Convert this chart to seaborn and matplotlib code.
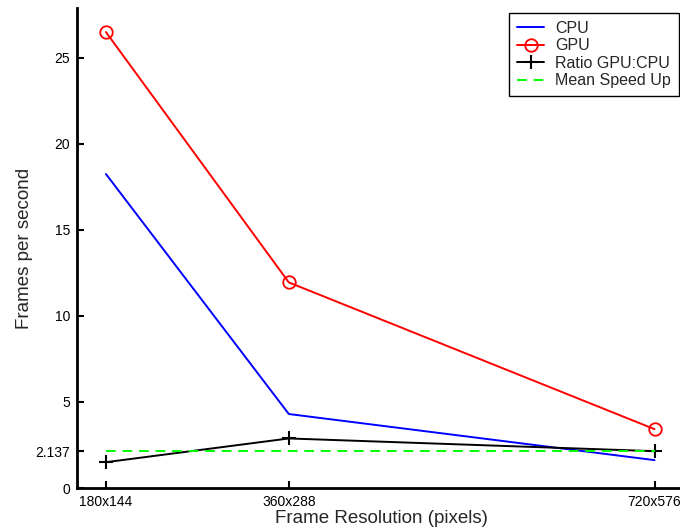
"""
GPU vs CPU frame rate at three frame resolutions, with the speed-up ratio.
"""
import matplotlib
matplotlib.use("Agg")
import matplotlib.pyplot as plt
import seaborn as sns

# --- data ---
frame_widths = [180, 360, 720]
frame_labels = ["180x144", "360x288", "720x576"]
cpu_fps = [18.25, 4.3, 1.62]
gpu_fps = [26.5, 11.95, 3.42]
ratio_gpu_cpu = [1.5, 2.88, 2.14]
mean_speedup = 2.137

sns.set_style("white")
plt.rcParams["font.family"] = ["Liberation Sans", "DejaVu Sans"]

fig = plt.figure(figsize=(6.8, 5.28), dpi=100)
# axes run a little past the right edge, as in the clipped original
ax = fig.add_axes([77 / 680, 40 / 528, 608 / 680, 480 / 528])

lw = 1.4
sns.lineplot(x=frame_widths, y=cpu_fps, ax=ax, color="blue", linewidth=lw,
             label="CPU")
sns.lineplot(x=frame_widths, y=gpu_fps, ax=ax, color="red", linewidth=lw,
             marker="o", markersize=9, markerfacecolor="none",
             markeredgecolor="red", markeredgewidth=1.3, label="GPU")
sns.lineplot(x=frame_widths, y=ratio_gpu_cpu, ax=ax, color="black", linewidth=lw,
             marker="+", markersize=10, markeredgecolor="black",
             markeredgewidth=1.5, label="Ratio GPU:CPU")
sns.lineplot(x=[frame_widths[0], frame_widths[-1]], y=[mean_speedup, mean_speedup],
             ax=ax, color="#00ff00", linewidth=lw, label="Mean Speed Up")
ax.lines[-1].set_dashes((5, 3.5))

ax.set_xlim(151.5, 750)
ax.set_ylim(0, 27.9)
ax.set_xticks(frame_widths)
ax.set_xticklabels(frame_labels)
ax.set_yticks([0, mean_speedup, 5, 10, 15, 20, 25])
ax.set_yticklabels(["0", f"{mean_speedup:.3f}", "5", "10", "15", "20", "25"])
ax.tick_params(axis="both", direction="in", length=5, width=1.5,
               labelsize=10, colors="black", pad=5, bottom=True, left=True)

ax.set_xlabel("Frame Resolution (pixels)", fontsize=13.5, labelpad=1)
ax.set_ylabel("Frames per second", fontsize=13.5, labelpad=1.5)

sns.despine(ax=ax)
for side in ("left", "bottom"):
    ax.spines[side].set_linewidth(2)
    ax.spines[side].set_color("black")

leg = ax.legend(loc="upper right", bbox_to_anchor=(679 / 680, 1 - 13 / 528),
                bbox_transform=fig.transFigure, borderaxespad=0,
                fontsize=11.5, frameon=True, fancybox=False, framealpha=1,
                edgecolor="black", handlelength=1.7, handletextpad=0.7,
                labelspacing=0.15, borderpad=0.5)
leg.get_frame().set_linewidth(1.0)

fig.savefig("out.png", dpi=100)
plt.close(fig)
